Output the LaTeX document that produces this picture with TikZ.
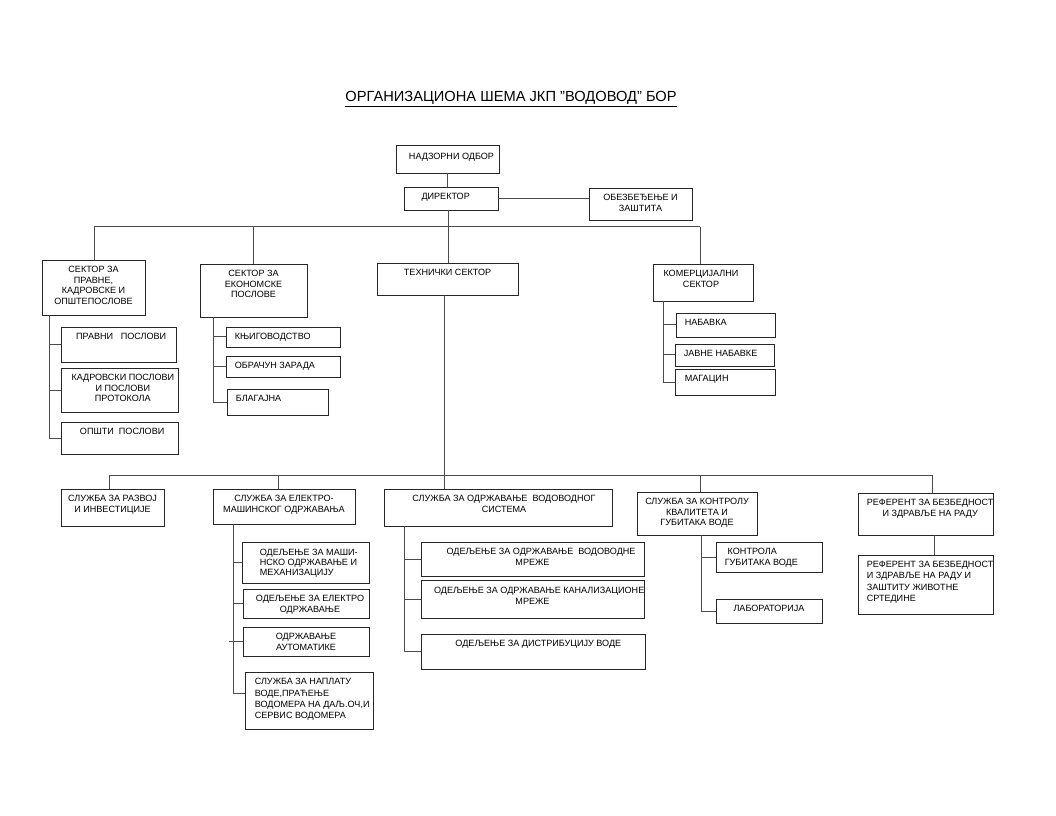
\documentclass[tikz,border=0pt]{standalone}
\usepackage{fontspec}
\setmainfont{Liberation Sans}
\usetikzlibrary{fit,calc}
\definecolor{linegray}{gray}{0.3}
\newcommand{\boxfont}{\fontsize{6.8}{8}\selectfont}
\tikzset{
  unit/.style={draw=black!85, line width=0.7pt, inner sep=0pt},
  txt/.style={font=\boxfont, align=center, anchor=north, inner sep=0pt, yshift=-4.8pt},
  txtl/.style={txt, align=left, anchor=north west},
  link/.style={draw=linegray, line width=0.75pt},
}
\begin{document}
\begin{tikzpicture}[x=0.75pt,y=-0.75pt]
\useasboundingbox (0,0) rectangle (1056,816);
\node[font=\fontsize{11}{13}\selectfont](title) at (511,99) {\underline{ОРГАНИЗАЦИОНА ШЕМА ЈКП "ВОДОВОД" БОР}};
%
\node[unit, fit={(396,145) (499,173)}, label={[txt, xshift=3pt, yshift=-1.5pt]north:НАДЗОРНИ ОДБОР}](nadz) {};
\node[unit, fit={(404,187) (498,210)}, label={[txt, xshift=-4pt]north:ДИРЕКТОР}](dir) {};
\node[unit, fit={(589,188) (692,220)}, label={[txt]north:{ОБЕЗБЕЂЕЊЕ И\\ЗАШТИТА}}](obez) {};
\draw[link](nadz.south) -- (nadz.south |- dir.north);
\draw[link](dir.east) -- (dir.east -| obez.west);
%
\node[unit, fit={(42,260) (145,315)}, label={[txt]north:{СЕКТОР ЗА\\ПРАВНЕ,\\КАДРОВСКЕ И\\ОПШТЕПОСЛОВЕ}}](spk) {};
\node[unit, fit={(200,264) (307,317)}, label={[txt]north:{СЕКТОР ЗА\\ЕКОНОМСКЕ\\ПОСЛОВЕ}}](sek) {};
\node[unit, fit={(377,263) (518,295)}, label={[txt]north:ТЕХНИЧКИ СЕКТОР}](teh) {};
\node[unit, fit={(653,264) (753,301)}, label={[txt, xshift=-1.5pt]north:{КОМЕРЦИЈАЛНИ\\СЕКТОР}}](kom) {};
\coordinate(t1) at (94,227);
\coordinate(t2) at (253,227);
\coordinate(t3) at (448,227);
\coordinate(t4) at (700,227);
\draw[link](t1) -- (t4);
\draw[link](t1) -- (t1 |- spk.north);
\draw[link](t2) -- (t2 |- sek.north);
\draw[link](dir.south -| t3) -- (t3 |- teh.north);
\draw[link](t4) -- (t4 |- kom.north);
%
\node[unit, fit={(61,327) (176,362)}, label={[txt, xshift=2pt]north:{ПРАВНИ\ \ \ ПОСЛОВИ}}](prav) {};
\node[unit, fit={(61,368) (178,412)}, label={[txt, xshift=2.5pt]north:{КАДРОВСКИ ПОСЛОВИ\\И ПОСЛОВИ\\ПРОТОКОЛА}}](kadr) {};
\node[unit, fit={(61,422) (178,454)}, label={[txt, xshift=2pt]north:{ОПШТИ\ \ ПОСЛОВИ}}](opst) {};
\coordinate(pl) at (49,315);
\draw[link](pl) |- (opst.west);
\draw[link](pl |- prav.west) -- (prav.west);
\draw[link](pl |- kadr.west) -- (kadr.west);
%
\node[unit, fit={(226,327) (340,347)}, label={[txtl, xshift=6.75pt]north west:КЊИГОВОДСТВО}](knj) {};
\node[unit, fit={(226,356) (340,377)}, label={[txtl, xshift=6.75pt]north west:ОБРАЧУН ЗАРАДА}](obr) {};
\node[unit, fit={(227,389) (328,415)}, label={[txtl, xshift=6.75pt]north west:БЛАГАЈНА}](blag) {};
\coordinate(el) at (213,317);
\draw[link](el) |- (blag.west);
\draw[link](el |- knj.west) -- (knj.west);
\draw[link](el |- obr.west) -- (obr.west);
%
\node[unit, fit={(676,313) (775,337)}, label={[txtl, xshift=6.75pt]north west:НАБАВКА}](nab) {};
\node[unit, fit={(675,344) (774,366)}, label={[txtl, xshift=6.75pt]north west:ЈАВНЕ НАБАВКЕ}](jnab) {};
\node[unit, fit={(675,369) (775,395)}, label={[txtl, xshift=7.5pt]north west:МАГАЦИН}](mag) {};
\coordinate(kl) at (663,301);
\draw[link](kl) |- (mag.west);
\draw[link](kl |- nab.west) -- (nab.west);
\draw[link](kl |- jnab.west) -- (jnab.west);
%
\node[unit, fit={(61,489) (164,526)}, label={[txt]north:{СЛУЖБА ЗА РАЗВОЈ\\И ИНВЕСТИЦИЈЕ}}](razv) {};
\node[unit, fit={(213,489) (355,524)}, label={[txt]north:{СЛУЖБА ЗА ЕЛЕКТРО-\\МАШИНСКОГ ОДРЖАВАЊА}}](elmas) {};
\node[unit, fit={(384,489) (612,526)}, label={[txt, xshift=4.5pt]north:{СЛУЖБА ЗА ОДРЖАВАЊЕ\ \ ВОДОВОДНОГ\\СИСТЕМА}}](vodsis) {};
\node[unit, fit={(637,492) (757,535)}, label={[txt]north:{СЛУЖБА ЗА КОНТРОЛУ\\КВАЛИТЕТА И\\ГУБИТАКА ВОДЕ}}](kontr) {};
\node[unit, fit={(858,493) (993,535)}, label={[txt, xshift=3.5pt]north:{РЕФЕРЕНТ ЗА БЕЗБЕДНОСТ\\И ЗДРАВЉЕ НА РАДУ}}](ref) {};
\coordinate(d1) at (109,475);
\coordinate(d2) at (278,475);
\coordinate(d3) at (444,475);
\coordinate(d4) at (700,475);
\coordinate(d5) at (932,475);
\draw[link](d1) -- (d5);
\draw[link](teh.south -| d3) -- (d3 |- vodsis.north);
\draw[link](d1) -- (d1 |- razv.north);
\draw[link](d2) -- (d2 |- elmas.north);
\draw[link](d4) -- (d4 |- kontr.north);
\draw[link](d5) -- (d5 |- ref.north);
%
\node[unit, fit={(242,542) (369,583)}, label={[txtl, xshift=13.5pt, yshift=-1pt, font=\fontsize{6.8}{7.3}\selectfont]north west:{ОДЕЉЕЊЕ ЗА МАШИ-\\НСКО ОДРЖАВАЊЕ И\\МЕХАНИЗАЦИЈУ}}](odmas) {};
\node[unit, fit={(243,589) (369,618)}, label={[txt, xshift=3pt]north:{ОДЕЉЕЊЕ ЗА ЕЛЕКТРО\\ОДРЖАВАЊЕ}}](odel) {};
\node[unit, fit={(243,627) (369,656)}, label={[txt]north:{ОДРЖАВАЊЕ\\АУТОМАТИКЕ}}](aut) {};
\node[unit, fit={(245,672) (373,729)}, label={[txtl, xshift=7.5pt, font=\fontsize{6.8}{8.6}\selectfont]north west:{СЛУЖБА ЗА НАПЛАТУ\\ВОДЕ,ПРАЋЕЊЕ\\ВОДОМЕРА НА ДАЉ.ОЧ,И\\СЕРВИС ВОДОМЕРА}}](napl) {};
\coordinate(ml) at (233,524);
\coordinate(mb) at (233,693);
\draw[link](ml) -- (mb) -- (mb -| napl.west);
\draw[link](ml |- odmas.west) -- (odmas.west);
\draw[link](ml |- odel.west) -- (odel.west);
\draw[link](ml |- aut.west) ++(-4,0) -- (aut.west);
%
\node[unit, fit={(421,542) (644,576)}, label={[txt]north:{\hspace*{12.8pt}ОДЕЉЕЊЕ ЗА ОДРЖАВАЊЕ\ \ ВОДОВОДНЕ\\МРЕЖЕ}}](vmr) {};
\node[unit, fit={(421,580) (644,618)}, label={[txt, yshift=-1pt]north:{\hspace*{10pt}ОДЕЉЕЊЕ ЗА ОДРЖАВАЊЕ КАНАЛИЗАЦИОНЕ\\МРЕЖЕ}}](kmr) {};
\node[unit, fit={(421,634) (645,669)}, label={[txt, xshift=4pt]north:ОДЕЉЕЊЕ ЗА ДИСТРИБУЦИЈУ ВОДЕ}](dist) {};
\coordinate(vl) at (404,526);
\draw[link](vl) |- (dist.west);
\draw[link](vl |- vmr.west) -- (vmr.west);
\draw[link](vl |- kmr.west) -- (kmr.west);
%
\node[unit, fit={(716,542) (822,572)}, label={[txtl, xshift=6.75pt]north west:{\hspace*{2.2pt}КОНТРОЛА\\ГУБИТАКА ВОДЕ}}](kgub) {};
\node[unit, fit={(716,599) (822,623)}, label={[txt]north:ЛАБОРАТОРИЈА}](lab) {};
\coordinate(kcl) at (701,535);
\draw[link](kcl) |- (lab.west);
\draw[link](kcl |- kgub.west) -- (kgub.west);
%
\node[unit, fit={(858,555) (993,614)}, label={[txtl, xshift=6.75pt, font=\fontsize{6.8}{8.5}\selectfont]north west:{РЕФЕРЕНТ ЗА БЕЗБЕДНОСТ\\И ЗДРАВЉЕ НА РАДУ И\\ЗАШТИТУ ЖИВОТНЕ\\СРТЕДИНЕ}}](refz) {};
\coordinate(rl) at (934,535);
\draw[link](rl) -- (rl |- refz.north);
\end{tikzpicture}
\end{document}
